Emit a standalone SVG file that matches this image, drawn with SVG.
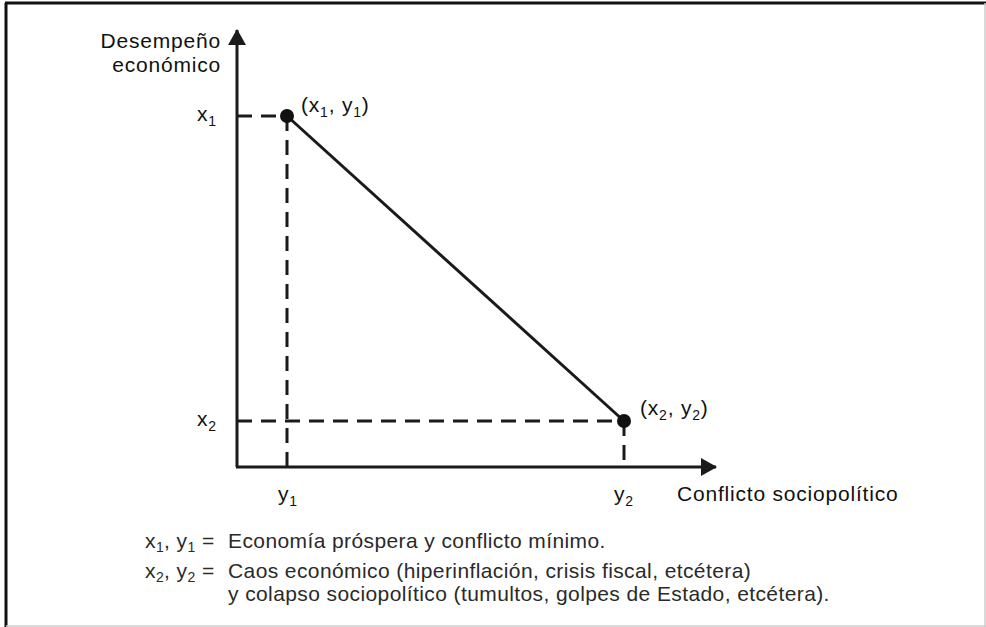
<svg xmlns="http://www.w3.org/2000/svg" width="986" height="627" viewBox="0 0 986 627">
<style>
text{font-family:"Liberation Sans",Arial,sans-serif;fill:#111;}
.lbl{font-size:21px;letter-spacing:0.8px;}
.leg{font-size:21px;letter-spacing:0.4px;fill:#2a2a2a;}
.axis{stroke:#1a1a1a;stroke-width:3;fill:none;}
.dash{stroke:#1a1a1a;stroke-width:3;fill:none;stroke-dasharray:15 9;}
.sub{font-size:14px;}
</style>
<defs>
<marker id="arr" markerUnits="userSpaceOnUse" markerWidth="16" markerHeight="18" refX="15" refY="9" orient="auto">
<path d="M0,0 L16,9 L0,18 Z" fill="#1a1a1a"/>
</marker>
</defs>
<rect x="0" y="0" width="986" height="627" fill="#fff"/>
<g id="frame">
<line x1="5" y1="3" x2="986" y2="3" stroke="#111" stroke-width="3"/>
<line x1="6" y1="3" x2="6" y2="627" stroke="#111" stroke-width="3"/>
<line x1="6" y1="626" x2="986" y2="626" stroke="#ccc" stroke-width="1.5"/>
<line x1="985" y1="3" x2="985" y2="627" stroke="#ccc" stroke-width="1.5"/>
</g>
<g id="connectors">
<path class="axis" d="M237,467 L237,30" marker-end="url(#arr)"/>
<path class="axis" d="M236,467 L716,467" marker-end="url(#arr)"/>
<path class="dash" d="M237,116 L287,116"/>
<path class="dash" d="M287,116 L287,467"/>
<path class="dash" d="M237,421 L624,421"/>
<path class="dash" d="M624,421 L624,467"/>
<line x1="287" y1="116" x2="624" y2="421" stroke="#1a1a1a" stroke-width="3"/>
</g>
<g id="p1">
<circle cx="287" cy="116" r="7" fill="#111"/>
<text class="lbl" x="301" y="112">(x<tspan class="sub" dy="5">1</tspan><tspan dy="-5">, y</tspan><tspan class="sub" dy="5">1</tspan><tspan dy="-5">)</tspan></text>
</g>
<g id="p2">
<circle cx="624" cy="421" r="7" fill="#111"/>
<text class="lbl" x="640" y="415">(x<tspan class="sub" dy="5">2</tspan><tspan dy="-5">, y</tspan><tspan class="sub" dy="5">2</tspan><tspan dy="-5">)</tspan></text>
</g>
<g id="yaxis-label">
<text class="lbl" x="221" y="48" text-anchor="end">Desempeño</text>
<text class="lbl" x="221" y="72" text-anchor="end">económico</text>
</g>
<g id="ticks">
<text class="lbl" x="197" y="121">x<tspan class="sub" dy="5">1</tspan></text>
<text class="lbl" x="197" y="426">x<tspan class="sub" dy="5">2</tspan></text>
<text class="lbl" x="278" y="501">y<tspan class="sub" dy="5">1</tspan></text>
<text class="lbl" x="614" y="501">y<tspan class="sub" dy="5">2</tspan></text>
</g>
<g id="xaxis-label">
<text class="lbl" x="677" y="501">Conflicto sociopolítico</text>
</g>
<g id="legend">
<text class="leg" x="145" y="548">x<tspan class="sub" dy="4">1</tspan><tspan dy="-4">, y</tspan><tspan class="sub" dy="4">1</tspan><tspan dy="-4"> =</tspan></text>
<text class="leg" x="228" y="548">Economía próspera y conflicto mínimo.</text>
<text class="leg" x="145" y="578">x<tspan class="sub" dy="4">2</tspan><tspan dy="-4">, y</tspan><tspan class="sub" dy="4">2</tspan><tspan dy="-4"> =</tspan></text>
<text class="leg" x="228" y="578">Caos económico (hiperinflación, crisis fiscal, etcétera)</text>
<text class="leg" x="228" y="601">y colapso sociopolítico (tumultos, golpes de Estado, etcétera).</text>
</g>
</svg>
